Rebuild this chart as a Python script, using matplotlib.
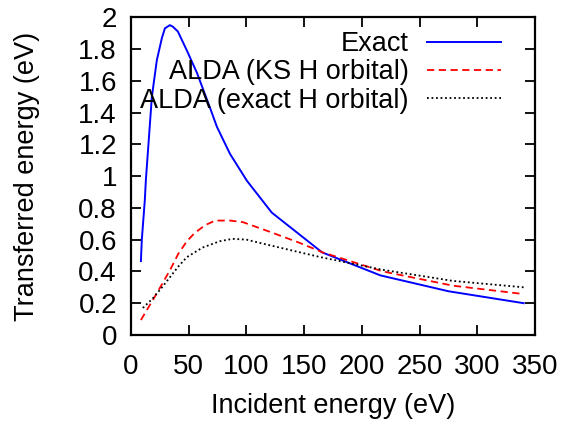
import matplotlib
matplotlib.use('Agg')
import matplotlib.pyplot as plt

plt.rcParams['font.family'] = ['Liberation Sans', 'DejaVu Sans']

# Exact (blue solid)
exact_x = [8.7, 9.5, 12.1, 13, 18.2, 22.5, 26.9, 29.5, 33.8, 36.4, 40.7, 48.5, 57.2,
           68.5, 74.5, 85.8, 100.5, 122, 165.5, 216, 275, 340]
exact_y = [0.465, 0.60, 0.85, 0.975, 1.50, 1.73, 1.87, 1.93, 1.95, 1.94, 1.91, 1.79, 1.65,
           1.43, 1.31, 1.14, 0.97, 0.77, 0.52, 0.375, 0.275, 0.20]

# ALDA (KS H orbital) (red dashed)
ks_x = [8.7, 19, 27, 34, 41, 48.5, 55, 64, 73, 86, 97, 120, 146, 166, 218, 279, 337]
ks_y = [0.094, 0.22, 0.32, 0.41, 0.51, 0.59, 0.64, 0.69, 0.72, 0.72, 0.71, 0.65, 0.58,
        0.52, 0.40, 0.31, 0.26]

# ALDA (exact H orbital) (black dotted)
ex_x = [10.4, 19, 27, 34, 41, 48.5, 62, 77, 88, 100, 120, 164, 218, 279, 340]
ex_y = [0.17, 0.23, 0.30, 0.365, 0.43, 0.49, 0.55, 0.59, 0.605, 0.60, 0.565, 0.49, 0.41,
        0.34, 0.30]

fig = plt.figure(figsize=(5.64, 4.30), dpi=100)
ax = fig.add_axes([0.232, 0.221, 0.717, 0.739])

ax.plot(exact_x, exact_y, color='#0000ff', lw=1.4, label='Exact')
ax.plot(ks_x, ks_y, color='#ff0000', lw=1.3, ls=(0, (4, 2.5)), label='ALDA (KS H orbital)')
ax.plot(ex_x, ex_y, color='black', lw=1.3, ls=(0, (1, 1.5)), label='ALDA (exact H orbital)')

ax.set_xlim(0, 350)
ax.set_ylim(0, 2)
ax.set_xticks(range(0, 351, 50))
ax.set_yticks([0, 0.2, 0.4, 0.6, 0.8, 1, 1.2, 1.4, 1.6, 1.8, 2])
ax.set_yticklabels(['0', '0.2', '0.4', '0.6', '0.8', '1', '1.2', '1.4', '1.6', '1.8', '2'])
ax.tick_params(direction='in', top=True, right=True, length=7, width=1.3,
               labelsize=20)
ax.tick_params(axis='y', pad=10)
ax.tick_params(axis='x', pad=14)
for s in ax.spines.values():
    s.set_linewidth(1.6)

ax.set_xlabel('Incident energy (eV)', fontsize=19.5, labelpad=9)
ax.set_ylabel('Transferred energy (eV)', fontsize=19.5)
ax.yaxis.set_label_coords(-0.225, 0.5)

ax.legend(loc='upper right', bbox_to_anchor=(0.969, 1.024), frameon=False, markerfirst=False,
          fontsize=19.5, handlelength=2.75, handletextpad=0.65, labelspacing=0.08,
          borderpad=0.3)

fig.savefig('out.png', dpi=100)
